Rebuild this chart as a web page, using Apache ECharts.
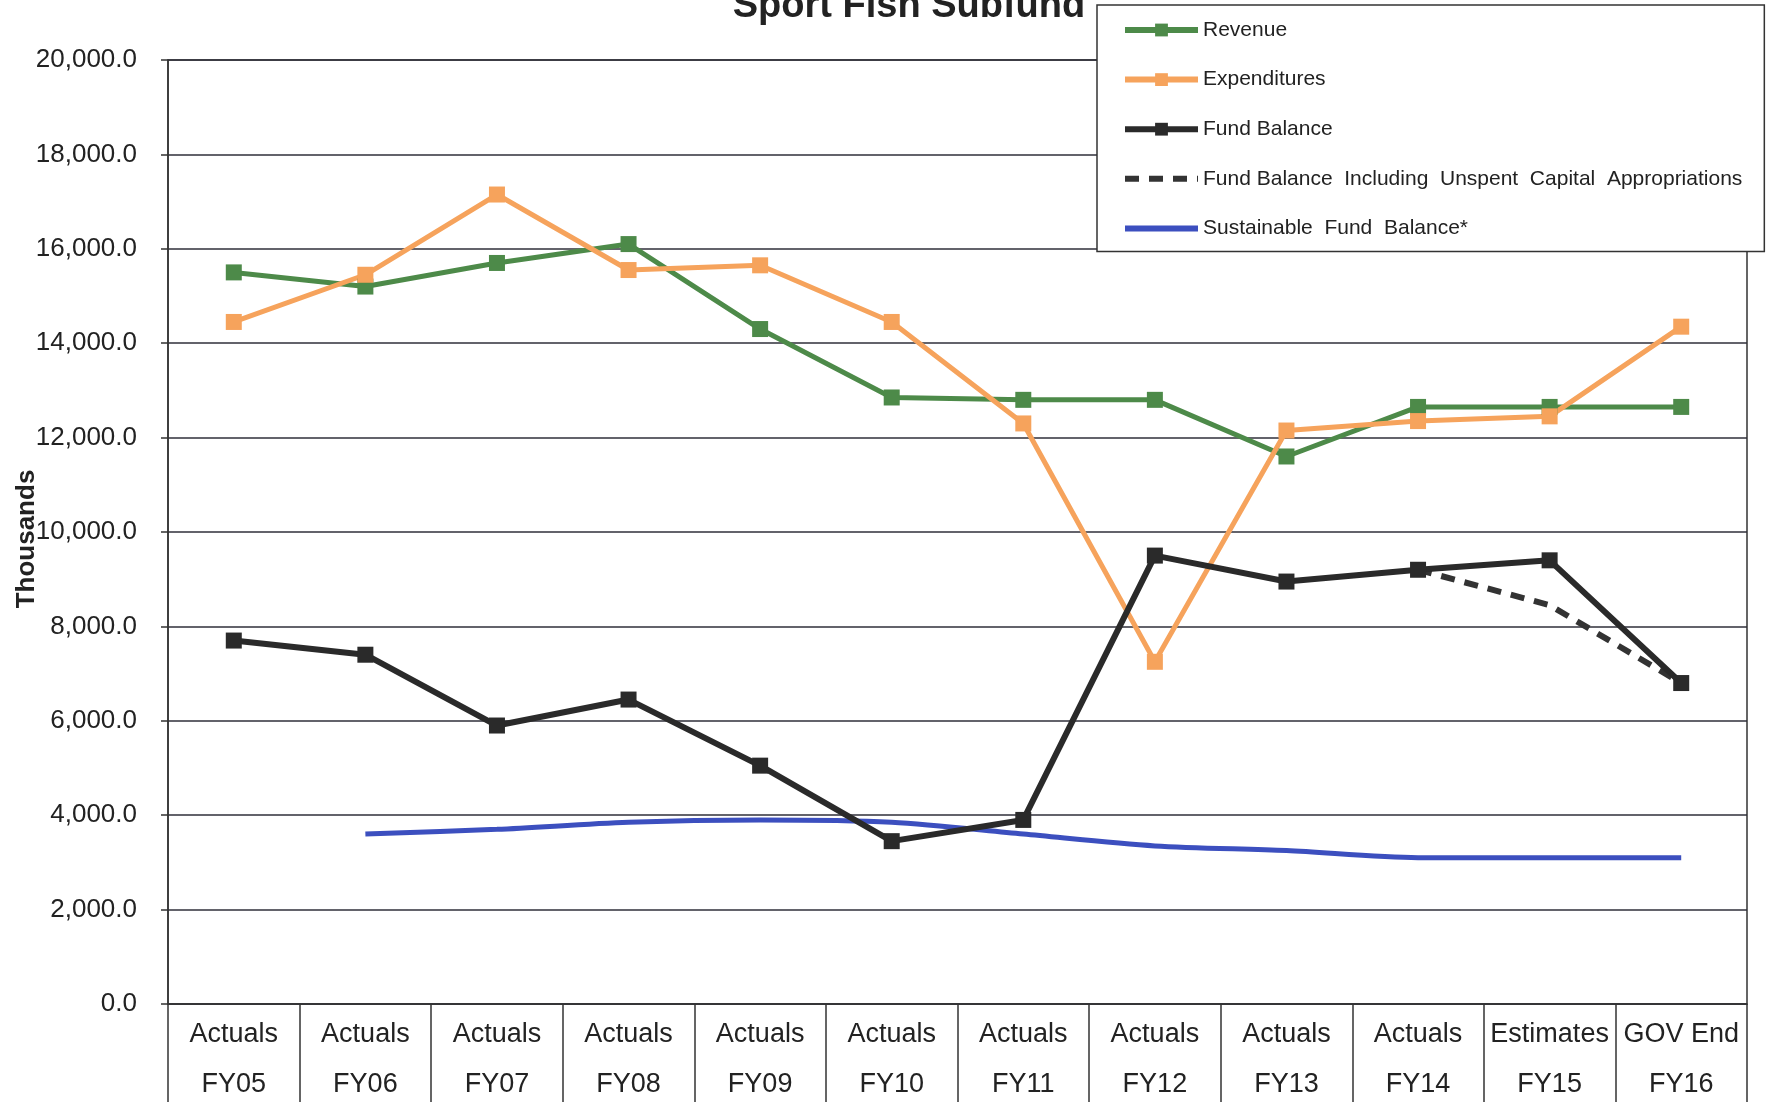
<!DOCTYPE html>
<html>
<head>
<meta charset="utf-8">
<script src="https://cdn.jsdelivr.net/npm/echarts@6/dist/echarts.min.js"></script>
<style>
html,body{margin:0;padding:0;background:#fff;}
#chart{width:1768px;height:1102px;}
</style>
</head>
<body>
<div id="chart"></div>
<script>
const categories = ["Actuals\nFY05","Actuals\nFY06","Actuals\nFY07","Actuals\nFY08","Actuals\nFY09","Actuals\nFY10","Actuals\nFY11","Actuals\nFY12","Actuals\nFY13","Actuals\nFY14","Estimates\nFY15","GOV End\nFY16"];
const revenue = [15500,15200,15700,16100,14300,12850,12800,12800,11600,12650,12650,12650];
const expenditures = [14450,15450,17150,15550,15650,14450,12300,7250,12150,12350,12450,14350];
const fundBalance = [7700,7400,5900,6450,5050,3450,3900,9500,8950,9200,9400,6800];
const fundBalanceInclCap = [null,null,null,null,null,null,null,null,null,9200,8450,6800];
const sustainable = [null,3600,3700,3850,3900,3850,3600,3350,3250,3100,3100,3100];
const yTicks = {min:0, max:20000, interval:2000};
const yAxisTitle = 'Thousands';

const SANS = '"Liberation Sans", Arial, sans-serif';

const C_REV = '#4d8a49', C_EXP = '#f6a35c', C_FB = '#2a2a2a', C_FBD = '#333333', C_SUS = '#3c4fbf';
const N_REV = 'Revenue', N_EXP = 'Expenditures', N_FB = 'Fund Balance',
      N_FBD = 'Fund Balance  Including  Unspent  Capital  Appropriations', N_SUS = 'Sustainable  Fund  Balance*';

const chart = echarts.init(document.getElementById('chart'), null, {renderer:'canvas'});
const option = {
  animation:false,
  backgroundColor:'#ffffff',
  title:{
    text:'Sport Fish Subfund',
    left:904, textAlign:'center', top:-17,
    textStyle:{fontFamily:SANS, fontWeight:'bold', fontSize:38, color:'#222'}
  },
  legend:{
    orient:'vertical',
    left:1097, top:5,
    padding:[14,22,12,25],
    itemWidth:73, itemHeight:16, itemGap:27.6,
    backgroundColor:'#ffffff',
    borderColor:'#333', borderWidth:1.5,
    textStyle:{fontFamily:SANS, fontSize:21, color:'#222', lineHeight:22},
    data:[
      {name:N_REV, lineStyle:{width:6}},
      {name:N_EXP, lineStyle:{width:6}},
      {name:N_FB, lineStyle:{width:6}},
      {name:N_FBD, lineStyle:{width:6}, itemStyle:{opacity:0}},
      {name:N_SUS, lineStyle:{width:6}, itemStyle:{opacity:0}}
    ]
  },
  graphic:[{
    type:'text', x:27, y:539, rotation:Math.PI/2, z:100,
    style:{text:yAxisTitle, font:'bold 26px "Liberation Sans", Arial, sans-serif', fill:'#222', align:'center', verticalAlign:'middle'}
  }],
  grid:{left:168, right:21, top:60, bottom:98, outerBoundsMode:'none', containLabel:false,
    show:true, borderColor:'#333', borderWidth:1.5, backgroundColor:'transparent'},
  xAxis:{
    type:'category', data:categories, boundaryGap:true,
    axisLine:{show:true, lineStyle:{color:'#333', width:1.5}},
    axisTick:{show:true, length:100, interval:0, alignWithLabel:false, lineStyle:{color:'#333', width:1.5}},
    axisLabel:{interval:0, margin:6, fontFamily:SANS, fontSize:27, lineHeight:50, color:'#222'}
  },
  yAxis:{
    type:'value', min:yTicks.min, max:yTicks.max, interval:yTicks.interval,
    axisLine:{show:true, lineStyle:{color:'#333', width:1.5}},
    axisTick:{show:true, length:7, lineStyle:{color:'#333', width:1.5}},
    axisLabel:{margin:31, fontFamily:SANS, fontSize:26, color:'#222',
      formatter:v=>v.toLocaleString('en-US',{minimumFractionDigits:1, maximumFractionDigits:1})},
    splitLine:{show:true, lineStyle:{color:'#2f2f3a', width:1.5}}
  },
  series:[
    {name:N_REV, type:'line', data:revenue, symbol:'rect', symbolSize:16,
      lineStyle:{color:C_REV, width:5}, itemStyle:{color:C_REV}},
    {name:N_EXP, type:'line', data:expenditures, symbol:'rect', symbolSize:16,
      lineStyle:{color:C_EXP, width:5}, itemStyle:{color:C_EXP}},
    {name:N_SUS, type:'line', data:sustainable, symbol:'none', smooth:0.3,
      lineStyle:{color:C_SUS, width:5}, itemStyle:{color:C_SUS}},
    {name:N_FBD, type:'line', data:fundBalanceInclCap, symbol:'none',
      lineStyle:{color:C_FBD, width:6, type:[14,10]}, itemStyle:{color:C_FBD}},
    {name:N_FB, type:'line', data:fundBalance, symbol:'rect', symbolSize:16,
      lineStyle:{color:C_FB, width:6}, itemStyle:{color:C_FB}}
  ]
};
chart.setOption(option);
</script>
</body>
</html>
